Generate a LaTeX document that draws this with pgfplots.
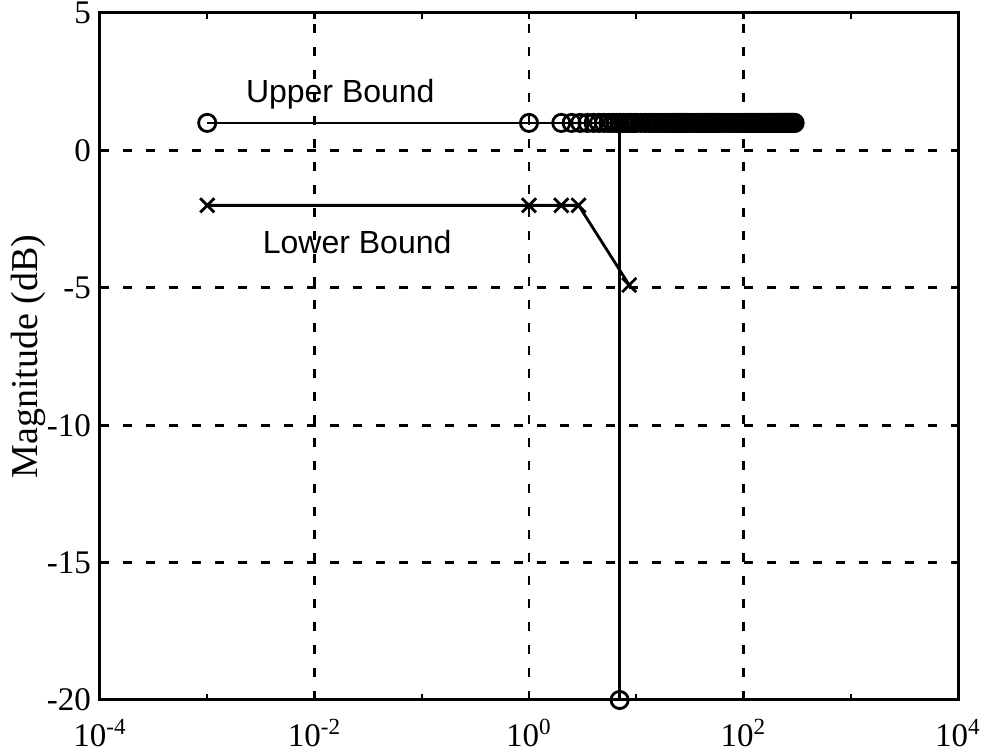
\documentclass[border=0pt]{standalone}
\usepackage{fontspec}
\setmainfont{Liberation Serif}
\newfontfamily\arial{Liberation Sans}
\usepackage{pgfplots}
\pgfplotsset{compat=1.18}
\begin{document}
\begin{tikzpicture}
\begin{semilogxaxis}[
  scale only axis, width=429pt, height=343.5pt,
  xmin=1e-4, xmax=1e4, ymin=-20, ymax=5,
  xtick={1e-4,1e-2,1,1e2,1e4},
  xticklabels={10\textsuperscript{-4},10\textsuperscript{-2},10\textsuperscript{0},10\textsuperscript{2},10\textsuperscript{4}},
  minor xtick={1e-3,1e-1,10,1e3},
  ytick={-20,-15,-10,-5,0,5},
  yticklabels={-20,-15,-10,-5,0,5},
  xmajorgrids, ymajorgrids,
  major grid style={black, line width=1.4pt, dash pattern=on 4.5pt off 7pt},
  axis line style={black, line width=1.5pt},
  tick style={black, line width=1.2pt},
  major tick length=3pt, minor tick length=3pt,
  tick align=inside,
  ticklabel style={font=\fontsize{16.5}{19}\selectfont},
  xticklabel style={yshift=-6pt},
  yticklabel style={xshift=-1pt},
  ylabel={Magnitude (dB)},
  ylabel style={font=\fontsize{19}{22}\selectfont, at={(axis description cs:-0.084,0.5)}, anchor=center},
  clip=false,
]
\coordinate (SW) at (rel axis cs:0,0);
\coordinate (NE) at (rel axis cs:1,1);
% Upper bound
\addplot[black, line width=1.4pt, mark=o, mark size=4.3pt, mark options={line width=1.4pt}] coordinates {
 (1e-3,1.0) (1,1.0) (2,1.0) (2.5,1.0) (3,1.0) (3.5,1.0) (4,1.0) (4.5,1.0) (5,1.0) (5.5,1.0) (6,1.0) (6.5,1.0)
 (7,1.0) (7,-20) (7,1.0) (7.5,1.0) (8,1.0) (8.5,1.0) (9,1.0) (9.5,1.0) (10,1.0)
 (11,1.0) (12,1.0) (13,1.0) (14,1.0) (15,1.0) (16,1.0) (17,1.0) (18,1.0) (19,1.0) (20,1.0)
 (21,1.0) (22,1.0) (23,1.0) (24,1.0) (25,1.0) (26,1.0) (27,1.0) (28,1.0) (29,1.0) (30,1.0)
 (32,1.0) (34,1.0) (36,1.0) (38,1.0) (40,1.0) (42,1.0) (44,1.0) (46,1.0) (48,1.0) (50,1.0)
 (52,1.0) (54,1.0) (56,1.0) (58,1.0) (60,1.0)
 (65,1.0) (70,1.0) (75,1.0) (80,1.0) (85,1.0) (90,1.0) (95,1.0) (100,1.0)
 (105,1.0) (110,1.0) (115,1.0) (120,1.0) (125,1.0) (130,1.0) (135,1.0) (140,1.0) (145,1.0) (150,1.0)
 (155,1.0) (160,1.0) (165,1.0) (170,1.0) (175,1.0) (180,1.0) (185,1.0) (190,1.0) (195,1.0) (200,1.0)
 (205,1.0) (210,1.0) (215,1.0) (220,1.0) (225,1.0) (230,1.0) (235,1.0) (240,1.0) (245,1.0) (250,1.0)
 (255,1.0) (260,1.0) (265,1.0) (270,1.0) (275,1.0) (280,1.0) (285,1.0) (290,1.0) (295,1.0) (300,1.0)
};
% Lower bound
\addplot[black, line width=1.4pt, mark=x, mark size=5pt, mark options={line width=1.4pt}] coordinates {
 (1e-3,-2.0) (1,-2.0) (2,-2.0) (2.9,-2.0) (8.6,-4.9)
};
\node[font=\arial\fontsize{16}{18}\selectfont] at (axis cs:0.0174,2.05) {Upper Bound};
\node[font=\arial\fontsize{16}{18}\selectfont] at (axis cs:0.025,-3.35) {Lower Bound};
\end{semilogxaxis}
\pgfresetboundingbox
\path ([xshift=-50pt,yshift=-26.5pt]SW) rectangle ([xshift=13pt,yshift=6.5pt]NE);
\end{tikzpicture}
\end{document}
